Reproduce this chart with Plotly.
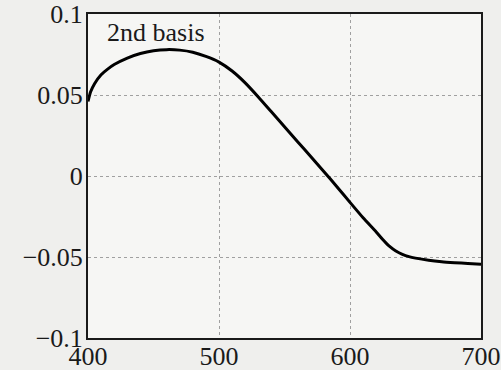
import plotly.graph_objects as go

wavelength = [400, 402, 405, 410, 415, 420, 430, 440, 450, 460, 470, 480, 490, 500, 510, 520,
              530, 540, 550, 560, 570, 580, 590, 600, 610, 620, 625, 630, 635, 640, 645, 650,
              660, 670, 680, 690, 700]
basis2 = [0.046, 0.052, 0.057, 0.0625, 0.066, 0.0688, 0.0728, 0.0756, 0.0773, 0.078, 0.0777,
          0.0764, 0.0738, 0.0703, 0.0648, 0.0575, 0.0488, 0.0396, 0.0304, 0.0212, 0.012,
          0.0028, -0.0066, -0.0163, -0.0258, -0.0345, -0.0392, -0.0433, -0.0463, -0.0484,
          -0.0498, -0.0507, -0.052, -0.0529, -0.0535, -0.054, -0.0544]

x_ticks = [400, 500, 600, 700]
y_ticks = [-0.1, -0.05, 0, 0.05, 0.1]
y_ticklabels = ["\u22120.1", "\u22120.05", "0", "0.05", "0.1"]
label = "2nd basis"

font_family = "Liberation Serif, Times New Roman, serif"

fig = go.Figure()
fig.add_trace(go.Scatter(x=wavelength, y=basis2, mode="lines",
                         line=dict(color="black", width=3, shape="spline", smoothing=0.6),
                         showlegend=False, hoverinfo="skip"))

fig.add_annotation(x=452, y=0.0885, xref="x", yref="y", text=label, showarrow=False,
                   font=dict(family=font_family, size=26, color="#1a1a1a"))

axis_common = dict(showgrid=True, gridcolor="#a0a0a0", griddash="dot", gridwidth=1,
                   showline=True, linecolor="#1a1a1a", linewidth=2, mirror=True,
                   ticks="", zeroline=False, automargin=False,
                   tickfont=dict(family=font_family, size=26, color="#1a1a1a"))

fig.update_xaxes(range=[400, 700], tickvals=x_ticks, ticktext=[str(v) for v in x_ticks],
                 ticklabelstandoff=-6, **axis_common)
fig.update_yaxes(range=[-0.1, 0.1], tickvals=y_ticks, ticktext=y_ticklabels,
                 ticklabelstandoff=-2, **axis_common)

fig.update_layout(width=501, height=370,
                  margin=dict(l=88, r=20, t=14, b=32, autoexpand=False),
                  paper_bgcolor="#efefed", plot_bgcolor="#f6f6f4")

fig.write_html("out.html")
